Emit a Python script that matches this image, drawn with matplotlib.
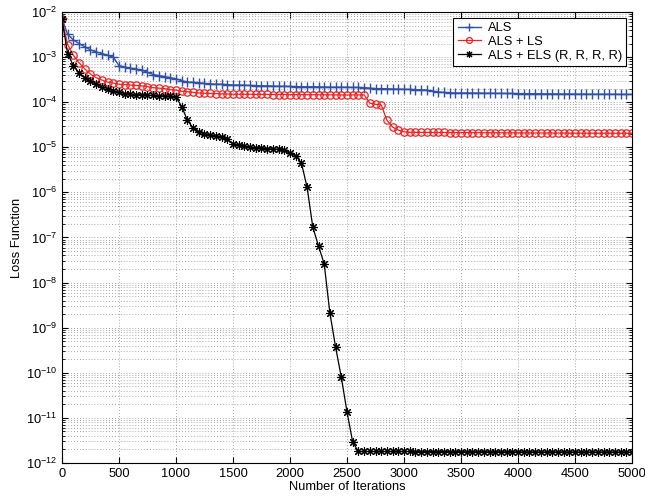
import numpy as np
import matplotlib
matplotlib.use("Agg")
import matplotlib.pyplot as plt
from matplotlib.ticker import LogLocator, NullFormatter

# iteration count of every sample (one sample every 50 iterations)
iterations = np.arange(0, 5001, 50)

loss_als = [
    7.2e-3, 3.2e-3, 2.4e-3, 2.0e-3, 1.7e-3, 1.45e-3, 1.3e-3, 1.2e-3, 1.1e-3, 1.0e-3,
    6.5e-4, 6.0e-4, 5.7e-4, 5.4e-4, 5.2e-4, 4.6e-4, 4.1e-4, 3.9e-4, 3.7e-4, 3.5e-4,
    3.3e-4, 3.0e-4, 2.8e-4, 2.75e-4, 2.7e-4, 2.6e-4, 2.55e-4, 2.5e-4, 2.5e-4, 2.45e-4,
    2.4e-4, 2.4e-4, 2.38e-4, 2.35e-4, 2.33e-4, 2.3e-4, 2.3e-4, 2.28e-4, 2.25e-4, 2.25e-4,
    2.23e-4, 2.22e-4, 2.2e-4, 2.2e-4, 2.2e-4, 2.18e-4, 2.17e-4, 2.16e-4, 2.15e-4, 2.15e-4,
    2.14e-4, 2.13e-4, 2.12e-4, 2.1e-4, 2.05e-4, 2.0e-4, 2.0e-4, 1.98e-4, 1.96e-4, 1.95e-4,
    1.93e-4, 1.92e-4, 1.9e-4, 1.88e-4, 1.85e-4, 1.75e-4, 1.68e-4, 1.65e-4, 1.62e-4, 1.6e-4,
    1.6e-4, 1.6e-4, 1.59e-4, 1.59e-4, 1.58e-4, 1.58e-4, 1.57e-4, 1.57e-4, 1.56e-4, 1.56e-4,
    1.55e-4, 1.55e-4, 1.54e-4, 1.54e-4, 1.53e-4, 1.53e-4, 1.53e-4, 1.52e-4, 1.52e-4, 1.52e-4,
    1.51e-4, 1.51e-4, 1.51e-4, 1.5e-4, 1.5e-4, 1.5e-4, 1.5e-4, 1.5e-4, 1.49e-4, 1.49e-4,
    1.49e-4,
]

loss_als_ls = [
    7.0e-3, 1.9e-3, 1.1e-3, 7.5e-4, 5.5e-4, 4.2e-4, 3.5e-4, 3.1e-4, 2.8e-4, 2.65e-4,
    2.5e-4, 2.45e-4, 2.4e-4, 2.35e-4, 2.3e-4, 2.2e-4, 2.1e-4, 2.05e-4, 2.0e-4, 1.9e-4,
    1.85e-4, 1.75e-4, 1.7e-4, 1.65e-4, 1.6e-4, 1.58e-4, 1.56e-4, 1.55e-4, 1.53e-4, 1.52e-4,
    1.5e-4, 1.5e-4, 1.5e-4, 1.5e-4, 1.49e-4, 1.49e-4, 1.49e-4, 1.48e-4, 1.48e-4, 1.48e-4,
    1.47e-4, 1.47e-4, 1.47e-4, 1.47e-4, 1.46e-4, 1.46e-4, 1.46e-4, 1.46e-4, 1.45e-4, 1.45e-4,
    1.45e-4, 1.45e-4, 1.45e-4, 1.45e-4, 9.5e-5, 9.0e-5, 8.7e-5, 4.0e-5, 2.8e-5, 2.4e-5,
    2.2e-5, 2.15e-5, 2.15e-5, 2.14e-5, 2.14e-5, 2.13e-5, 2.13e-5, 2.13e-5, 2.12e-5, 2.12e-5,
    2.12e-5, 2.11e-5, 2.11e-5, 2.11e-5, 2.1e-5, 2.1e-5, 2.1e-5, 2.1e-5, 2.09e-5, 2.09e-5,
    2.09e-5, 2.08e-5, 2.08e-5, 2.08e-5, 2.08e-5, 2.07e-5, 2.07e-5, 2.07e-5, 2.07e-5, 2.06e-5,
    2.06e-5, 2.06e-5, 2.06e-5, 2.06e-5, 2.05e-5, 2.05e-5, 2.05e-5, 2.05e-5, 2.05e-5, 2.05e-5,
    2.05e-5,
]

loss_als_els = [
    7.0e-3, 1.2e-3, 6.5e-4, 4.5e-4, 3.5e-4, 2.9e-4, 2.5e-4, 2.2e-4, 2.0e-4, 1.8e-4,
    1.65e-4, 1.55e-4, 1.5e-4, 1.48e-4, 1.46e-4, 1.44e-4, 1.42e-4, 1.4e-4, 1.38e-4, 1.35e-4,
    1.3e-4, 8.0e-5, 4.0e-5, 2.7e-5, 2.2e-5, 2.0e-5, 1.9e-5, 1.8e-5, 1.7e-5, 1.5e-5,
    1.2e-5, 1.1e-5, 1.05e-5, 1.0e-5, 9.8e-6, 9.6e-6, 9.4e-6, 9.2e-6, 9.0e-6, 8.5e-6,
    7.5e-6, 6.5e-6, 4.5e-6, 1.3e-6, 1.7e-7, 6.5e-8, 2.6e-8, 2.1e-9, 3.7e-10, 8.0e-11,
    1.35e-11, 2.9e-12, 1.8e-12, 1.8e-12, 1.8e-12, 1.8e-12, 1.8e-12, 1.8e-12, 1.8e-12, 1.8e-12,
    1.8e-12, 1.8e-12, 1.79e-12, 1.79e-12, 1.79e-12, 1.79e-12, 1.79e-12, 1.79e-12, 1.78e-12, 1.78e-12,
    1.78e-12, 1.78e-12, 1.78e-12, 1.78e-12, 1.77e-12, 1.77e-12, 1.77e-12, 1.77e-12, 1.77e-12, 1.77e-12,
    1.77e-12, 1.76e-12, 1.76e-12, 1.76e-12, 1.76e-12, 1.76e-12, 1.76e-12, 1.76e-12, 1.76e-12, 1.75e-12,
    1.75e-12, 1.75e-12, 1.75e-12, 1.75e-12, 1.75e-12, 1.75e-12, 1.75e-12, 1.75e-12, 1.75e-12, 1.75e-12,
    1.75e-12,
]

series_labels = ["ALS", "ALS + LS", "ALS + ELS (R, R, R, R)"]
x_ticks = [0, 500, 1000, 1500, 2000, 2500, 3000, 3500, 4000, 4500, 5000]
y_ticks = [1e-12, 1e-11, 1e-10, 1e-9, 1e-8, 1e-7, 1e-6, 1e-5, 1e-4, 1e-3, 1e-2]

plt.rcParams["font.family"] = ["Liberation Sans", "DejaVu Sans"]
plt.rcParams["font.size"] = 9.3
plt.rcParams["mathtext.fontset"] = "custom"
plt.rcParams["mathtext.rm"] = "Liberation Sans"

fig = plt.figure(figsize=(6.45, 5.0), dpi=100)
ax = fig.add_axes([0.096, 0.074, 0.884, 0.902])

# light dotted MATLAB-like grid, drawn under the curves
ax.set_yscale("log")
grid_style = dict(linestyle=(0, (1, 2.5)), color="#8a8a8a", linewidth=0.6)
ax.grid(True, which="major", axis="both", **grid_style)
ax.grid(True, which="minor", axis="y", **grid_style)
ax.set_axisbelow(True)

# MATLAB '*' is a + and x on top of each other -> 8-arm asterisk
asterisk = (8, 2, 0)

ax.plot(iterations, loss_als, color="#3050a5", linewidth=1.0, marker="+",
        markersize=6.5, markeredgewidth=1.0, label=series_labels[0])
ax.plot(iterations, loss_als_ls, color="#ee2222", linewidth=0.9, marker="o",
        markersize=5.3, markerfacecolor="none", markeredgewidth=0.9, label=series_labels[1])
ax.plot(iterations, loss_als_els, color="black", linewidth=0.9, marker=asterisk,
        markersize=6.3, markeredgewidth=0.8, label=series_labels[2])

ax.set_xlim(0, 5000)
ax.set_ylim(1e-12, 1e-2)
ax.set_xticks(x_ticks)
ax.set_yticks(y_ticks)
ax.yaxis.set_minor_locator(LogLocator(base=10, subs=np.arange(2, 10), numticks=200))
ax.yaxis.set_minor_formatter(NullFormatter())
ax.tick_params(which="both", direction="in", top=True, right=True, labelsize=9.3)
ax.tick_params(which="major", length=4)
ax.tick_params(which="minor", length=2)

ax.set_xlabel("Number of Iterations", labelpad=1)
ax.set_ylabel("Loss Function", labelpad=2)

leg = ax.legend(loc="upper right", fontsize=9.3, fancybox=False, framealpha=1,
                edgecolor="black", borderaxespad=0.45, handlelength=1.8,
                handletextpad=0.5, labelspacing=0.12, borderpad=0.35, markerscale=0.8)
leg.get_frame().set_linewidth(0.8)

fig.savefig("out.png", dpi=100)
